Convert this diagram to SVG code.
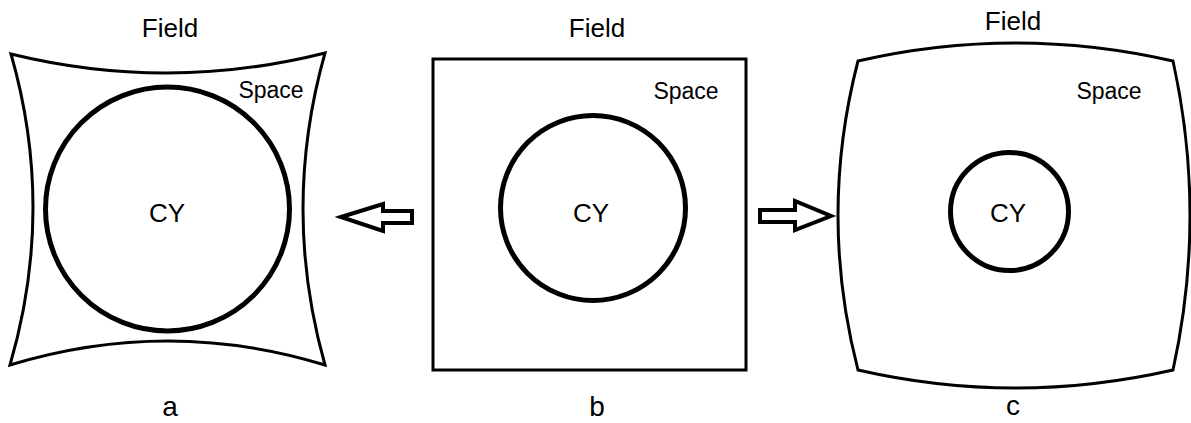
<svg xmlns="http://www.w3.org/2000/svg" width="1191" height="423" viewBox="0 0 1191 423">
<style>
.t{font-family:"Liberation Sans",Arial,sans-serif;fill:#000;text-anchor:middle}
.f{font-size:26px}
.s{font-size:23px}
.cy{font-size:26px}
.l{font-size:28px}
.o{fill:none;stroke:#000;stroke-width:3}
.c{fill:none;stroke:#000;stroke-width:5}
.ar{fill:#fff;stroke:#000;stroke-width:4;stroke-linejoin:miter}
</style>
<rect width="1191" height="423" fill="#fff"/>
<g id="panel-a">
<text class="t f" x="170" y="37">Field</text>
<path class="o" d="M11,54 Q168,92.5 325,53 Q281,209 325,365 Q168,317 10,365 Q55.5,209 11,54 Z"/>
<text class="t s" x="271" y="98">Space</text>
<circle class="c" cx="167.5" cy="209" r="122"/>
<text class="t cy" x="167" y="222">CY</text>
<text class="t l" x="170" y="416">a</text>
</g>
<g id="panel-b">
<text class="t f" x="597" y="37">Field</text>
<rect class="o" x="433" y="59" width="313" height="311"/>
<text class="t s" x="686" y="99">Space</text>
<circle class="c" cx="593" cy="208" r="92.5"/>
<text class="t cy" x="591" y="222">CY</text>
<text class="t l" x="597" y="416">b</text>
</g>
<g id="panel-c">
<text class="t f" x="1013" y="30">Field</text>
<path class="o" d="M858,61 Q1015,25 1173,61 Q1207,215 1173,370 Q1015,406 858,370 Q818,215 858,61 Z"/>
<text class="t s" x="1109" y="99">Space</text>
<circle class="c" cx="1009.5" cy="211.5" r="59"/>
<text class="t cy" x="1008" y="222">CY</text>
<text class="t l" x="1013" y="415">c</text>
</g>
<g id="connectors">
<path class="ar" d="M341,217 L383,204 L383,211 L412,211 L412,223 L383,223 L383,231 Z"/>
<path class="ar" d="M760,210 L795,210 L795,201 L831,216 L795,230 L795,222 L760,222 Z"/>
</g>
</svg>
